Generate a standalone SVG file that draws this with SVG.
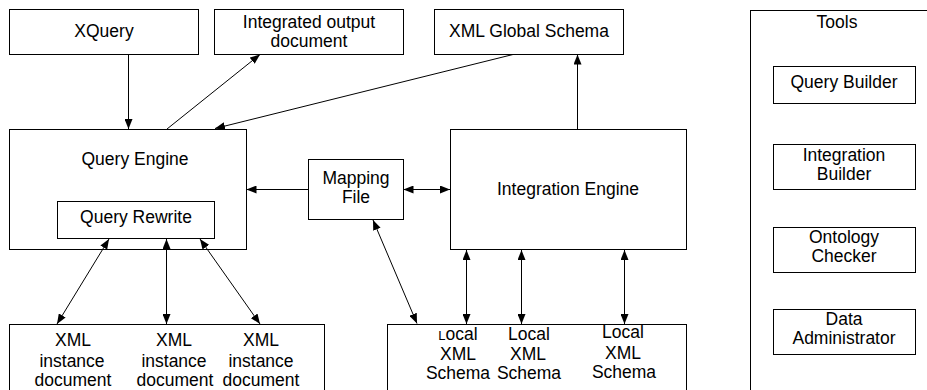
<svg xmlns="http://www.w3.org/2000/svg" width="927" height="390" viewBox="0 0 927 390">
  <style>
    .box { fill: #fff; stroke: #000; stroke-width: 1; }
    .lbl { font-family: "Liberation Sans", Arial, sans-serif; font-size: 17.5px; fill: #000; text-anchor: middle; }
    .edge { fill: none; stroke: #000; stroke-width: 1; }
  </style>
  <defs>
    <marker id="head" viewBox="0 0 10 8" markerWidth="10" markerHeight="8" refX="10" refY="4" orient="auto-start-reverse" markerUnits="userSpaceOnUse">
      <path d="M0,0 L10,4 L0,8 z" fill="#000"/>
    </marker>
  </defs>
  <rect width="927" height="390" fill="#fff"/>

  <g id="xquery">
    <rect class="box" x="9.5" y="9.5" width="189" height="45"/>
    <text class="lbl" x="104" y="37">XQuery</text>
  </g>
  <g id="integrated-output">
    <rect class="box" x="214.5" y="9.5" width="189" height="45"/>
    <text class="lbl" x="309" y="28">Integrated output</text>
    <text class="lbl" x="309" y="47">document</text>
  </g>
  <g id="global-schema">
    <rect class="box" x="434.5" y="9.5" width="189" height="45"/>
    <text class="lbl" x="529" y="37">XML Global Schema</text>
  </g>
  <g id="query-engine">
    <rect class="box" x="9.5" y="129.5" width="237" height="120"/>
    <text class="lbl" x="135" y="165">Query Engine</text>
  </g>
  <g id="query-rewrite">
    <rect class="box" x="57.5" y="201.5" width="157" height="37"/>
    <text class="lbl" x="136" y="223">Query Rewrite</text>
  </g>
  <g id="mapping-file">
    <rect class="box" x="308.5" y="159.5" width="95" height="60"/>
    <text class="lbl" x="356" y="184">Mapping</text>
    <text class="lbl" x="356" y="203">File</text>
  </g>
  <g id="integration-engine">
    <rect class="box" x="450.5" y="129.5" width="236" height="120"/>
    <text class="lbl" x="568" y="195">Integration Engine</text>
  </g>
  <g id="instance-documents">
    <rect class="box" x="9.5" y="324.5" width="315" height="80"/>
    <text class="lbl" x="73" y="346">XML</text>
    <text class="lbl" x="72" y="367">instance</text>
    <text class="lbl" x="73" y="386">document</text>
    <text class="lbl" x="174" y="346">XML</text>
    <text class="lbl" x="174" y="367">instance</text>
    <text class="lbl" x="175" y="386">document</text>
    <text class="lbl" x="261" y="346">XML</text>
    <text class="lbl" x="261" y="367">instance</text>
    <text class="lbl" x="261" y="386">document</text>
  </g>
  <g id="local-schemas">
    <rect class="box" x="387.5" y="324.5" width="299" height="80"/>
    <text class="lbl" x="458" y="340"><tspan font-size="13px">L</tspan>ocal</text>
    <text class="lbl" x="458" y="360">XML</text>
    <text class="lbl" x="458" y="379">Schema</text>
    <text class="lbl" x="529" y="340">Local</text>
    <text class="lbl" x="528" y="360">XML</text>
    <text class="lbl" x="529" y="379">Schema</text>
    <text class="lbl" x="623" y="338">Local</text>
    <text class="lbl" x="623" y="359">XML</text>
    <text class="lbl" x="624" y="378">Schema</text>
  </g>
  <g id="tools">
    <rect class="box" x="750.5" y="10.5" width="200" height="400"/>
    <text class="lbl" x="837" y="28">Tools</text>
  </g>
  <g id="query-builder">
    <rect class="box" x="773.5" y="66.5" width="142" height="37"/>
    <text class="lbl" x="844" y="88">Query Builder</text>
  </g>
  <g id="integration-builder">
    <rect class="box" x="773.5" y="144.5" width="142" height="45"/>
    <text class="lbl" x="844" y="161">Integration</text>
    <text class="lbl" x="844" y="180">Builder</text>
  </g>
  <g id="ontology-checker">
    <rect class="box" x="773.5" y="227.5" width="142" height="45"/>
    <text class="lbl" x="844" y="243">Ontology</text>
    <text class="lbl" x="844" y="262">Checker</text>
  </g>
  <g id="data-administrator">
    <rect class="box" x="773.5" y="309.5" width="142" height="45"/>
    <text class="lbl" x="844" y="325">Data</text>
    <text class="lbl" x="844" y="344">Administrator</text>
  </g>

  <g id="connectors">
    <path class="edge" d="M128.5,54.5 L128.5,129" marker-end="url(#head)"/>
    <path class="edge" d="M167,129 L260,54.5" marker-end="url(#head)"/>
    <path class="edge" d="M513,54.5 L215,128.5" marker-end="url(#head)"/>
    <path class="edge" d="M577.5,129 L577.5,54.5" marker-end="url(#head)"/>
    <path class="edge" d="M308,189.5 L246.5,189.5" marker-end="url(#head)"/>
    <path class="edge" d="M403.5,189.5 L450,189.5" marker-start="url(#head)" marker-end="url(#head)"/>
    <path class="edge" d="M417,323.5 L373,220" marker-start="url(#head)" marker-end="url(#head)"/>
    <path class="edge" d="M466.5,250 L466.5,324" marker-start="url(#head)" marker-end="url(#head)"/>
    <path class="edge" d="M521.5,250 L521.5,324" marker-start="url(#head)" marker-end="url(#head)"/>
    <path class="edge" d="M624.5,250 L624.5,324" marker-start="url(#head)" marker-end="url(#head)"/>
    <path class="edge" d="M109,239 L57,324" marker-start="url(#head)" marker-end="url(#head)"/>
    <path class="edge" d="M166.5,239 L166.5,324" marker-start="url(#head)" marker-end="url(#head)"/>
    <path class="edge" d="M200,239 L260,324" marker-start="url(#head)" marker-end="url(#head)"/>
  </g>
</svg>
